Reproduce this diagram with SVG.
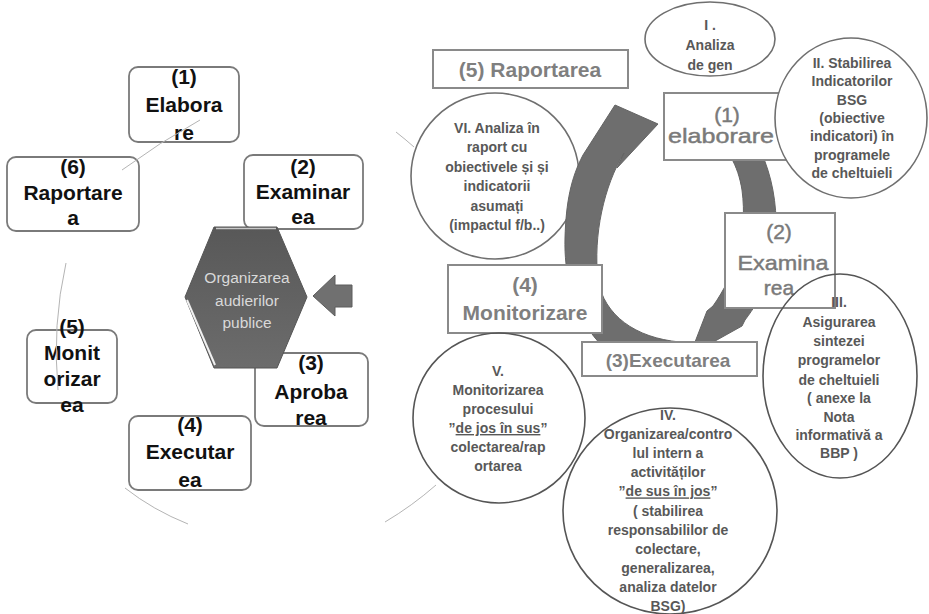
<svg xmlns="http://www.w3.org/2000/svg" width="929" height="614" viewBox="0 0 929 614">
  <defs>
    <linearGradient id="hexFill" x1="0" y1="0" x2="0" y2="1">
      <stop offset="0" stop-color="#585858"/>
      <stop offset="1" stop-color="#6c6c6c"/>
    </linearGradient>
    <style>
      .cycle-box { fill: #ffffff; stroke: #7a7a7a; stroke-width: 1.8; }
      .cycle-lbl { font-family: "Liberation Sans", Arial, sans-serif; font-weight: bold; font-size: 21px; fill: #111111; text-anchor: middle; }
      .guide { fill: none; stroke: #b4b4b4; stroke-width: 1; }
      .phase-box { fill: #ffffff; stroke: #8a8a8a; stroke-width: 2; }
      .phase-bold { font-family: "Liberation Sans", Arial, sans-serif; font-weight: bold; fill: #7f7f7f; text-anchor: middle; }
      .phase-reg { font-family: "Liberation Sans", Arial, sans-serif; font-size: 21px; fill: #7a7a7a; stroke: #7a7a7a; stroke-width: 0.45; text-anchor: middle; }
      .bubble { fill: #ffffff; stroke: #6f6f6f; stroke-width: 1.6; }
      .bubble-open { fill: none; stroke: #555555; stroke-width: 1.6; }
      .note { font-family: "Liberation Sans", Arial, sans-serif; font-weight: bold; font-size: 14px; fill: #585858; text-anchor: middle; }
      .ring { fill: #6e6e6e; stroke: #646464; stroke-width: 1; }
    </style>
  </defs>

  <!-- Left cycle: six rounded stage boxes around a central hexagon -->
  <g id="stage-1">
    <rect class="cycle-box" x="129" y="67" width="110" height="75" rx="9"/>
    <text class="cycle-lbl" x="184" y="84">(1)</text>
    <text class="cycle-lbl" x="184" y="112">Elabora</text>
    <text class="cycle-lbl" x="184" y="140">re</text>
  </g>
  <g id="stage-6">
    <rect class="cycle-box" x="7" y="157" width="132" height="74" rx="9"/>
    <text class="cycle-lbl" x="73" y="174">(6)</text>
    <text class="cycle-lbl" x="73" y="200">Raportare</text>
    <text class="cycle-lbl" x="73" y="225">a</text>
  </g>
  <g id="stage-2">
    <rect class="cycle-box" x="244" y="155" width="119" height="74" rx="9"/>
    <text class="cycle-lbl" x="303" y="174">(2)</text>
    <text class="cycle-lbl" x="303" y="199">Examinar</text>
    <text class="cycle-lbl" x="303" y="224">ea</text>
  </g>
  <g id="stage-3">
    <rect class="cycle-box" x="255" y="353" width="113" height="73" rx="9"/>
    <text class="cycle-lbl" x="311" y="370">(3)</text>
    <text class="cycle-lbl" x="311" y="399">Aproba</text>
    <text class="cycle-lbl" x="311" y="425">rea</text>
  </g>
  <g id="stage-4">
    <rect class="cycle-box" x="129" y="416" width="122" height="74" rx="9"/>
    <text class="cycle-lbl" x="190" y="432">(4)</text>
    <text class="cycle-lbl" x="190" y="459">Executar</text>
    <text class="cycle-lbl" x="190" y="487">ea</text>
  </g>
  <g id="stage-5">
    <rect class="cycle-box" x="27" y="330" width="90" height="73" rx="9"/>
    <text class="cycle-lbl" x="72" y="334">(5)</text>
    <text class="cycle-lbl" x="72" y="360">Monit</text>
    <text class="cycle-lbl" x="72" y="386">orizar</text>
    <text class="cycle-lbl" x="72" y="412">ea</text>
  </g>

  <!-- Thin arc pieces of the surrounding cycle -->
  <g id="cycle-arcs">
    <path class="guide" d="M200,120 Q160,142 122,170"/>
    <path class="guide" d="M66,263 Q52,325 58,390"/>
    <path class="guide" d="M125,488 Q153,510 188,524"/>
    <path class="guide" d="M436,485 Q412,506 385,522"/>
    <path class="guide" d="M396,132 Q405,139 414,147"/>
  </g>

  <g id="hub">
    <polygon points="214,227 277,227 307,297 277,368 214,368 185,297" fill="url(#hexFill)" stroke="#555555" stroke-width="1"/>
    <line x1="216" y1="228.5" x2="276" y2="228.5" stroke="#c8c8c8" stroke-width="1.5"/>
    <line x1="187" y1="300" x2="215" y2="365" stroke="#f0f0f0" stroke-width="2"/>
    <g font-family="Liberation Sans, Arial, sans-serif" font-size="15.5" fill="#d9d9d9" text-anchor="middle">
      <text x="247" y="283">Organizarea</text>
      <text x="247" y="306">audierilor</text>
      <text x="247" y="328">publice</text>
    </g>
  </g>

  <g id="link-arrow">
    <polygon points="313,296 335,275 335,285 352,285 352,307 335,307 335,316" fill="#707070" stroke="#5c5c5c" stroke-width="1"/>
  </g>

  <!-- Right cycle: descending ring arrow (drawn under the phase boxes) -->
  <g id="ring-down">
    <path class="ring" d="M712,96 C755,120 778,175 776,232 C774,272 762,298 745,320 L742,326 L690,355 L707,311 L713,306 C735,275 748,235 742,190 C738,165 728,148 708,130 Z"/>
  </g>

  <g id="phase-report">
    <rect class="phase-box" x="433" y="50" width="195" height="38"/>
    <text class="phase-bold" x="530" y="77" font-size="21">(5) Raportarea</text>
  </g>

  <g id="note-6">
    <ellipse class="bubble" cx="495" cy="176" rx="84" ry="83"/>
    <text class="note" x="497" y="133">VI. Analiza în</text>
    <text class="note" x="497" y="152.4">raport cu</text>
    <text class="note" x="497" y="171.8">obiectivele și și</text>
    <text class="note" x="497" y="191.2">indicatorii</text>
    <text class="note" x="497" y="210.6">asumați</text>
    <text class="note" x="497" y="230">(impactul f/b..)</text>
  </g>

  <!-- Rising ring arrow, laid over the bubble edge; head points right at the draft box -->
  <g id="ring-up">
    <path class="ring" d="M650,372 C600,362 563,310 565,238 C566,202 571,178 583,155 L615,105 L658,124 L617,168 L624,153 C604,186 593,235 598,280 C604,315 635,338 680,342 Z"/>
  </g>

  <g id="note-1">
    <ellipse class="bubble" cx="710" cy="39" rx="65" ry="37"/>
    <text class="note" x="710" y="30" font-size="15">I .</text>
    <text class="note" x="710" y="50" font-size="15">Analiza</text>
    <text class="note" x="710" y="70" font-size="15">de gen</text>
  </g>

  <g id="phase-draft">
    <rect class="phase-box" x="664" y="93" width="122" height="67"/>
    <text class="phase-reg" x="727" y="122">(1)</text>
    <text class="phase-reg" x="721" y="143" textLength="106" lengthAdjust="spacingAndGlyphs">elaborare</text>
  </g>

  <g id="note-2">
    <ellipse class="bubble" cx="851" cy="118" rx="76" ry="80"/>
    <text class="note" x="852" y="68">II. Stabilirea</text>
    <text class="note" x="852" y="86.3">Indicatorilor</text>
    <text class="note" x="852" y="104.6">BSG</text>
    <text class="note" x="852" y="122.9">(obiective</text>
    <text class="note" x="852" y="141.2">indicatori) în</text>
    <text class="note" x="852" y="159.5">programele</text>
    <text class="note" x="852" y="177.8">de cheltuieli</text>
  </g>

  <g id="phase-review">
    <rect class="phase-box" x="725" y="213" width="110" height="95"/>
    <text class="phase-reg" x="779" y="239">(2)</text>
    <text class="phase-reg" x="783" y="270" textLength="91" lengthAdjust="spacingAndGlyphs">Examina</text>
    <text class="phase-reg" x="779" y="295">rea</text>
  </g>

  <g id="phase-monitor">
    <rect class="phase-box" x="448" y="265" width="154" height="68"/>
    <text class="phase-bold" x="525" y="292" font-size="21">(4)</text>
    <text class="phase-bold" x="525" y="320" font-size="21">Monitorizare</text>
  </g>

  <g id="phase-execute">
    <rect class="phase-box" x="582" y="342" width="175" height="34"/>
    <text class="phase-bold" x="668" y="367" font-size="19">(3)Executarea</text>
  </g>

  <g id="note-3">
    <ellipse class="bubble-open" cx="840" cy="376" rx="77" ry="102"/>
    <text class="note" x="839" y="307">III.</text>
    <text class="note" x="839" y="327">Asigurarea</text>
    <text class="note" x="839" y="346">sintezei</text>
    <text class="note" x="839" y="365">programelor</text>
    <text class="note" x="839" y="385">de cheltuieli</text>
    <text class="note" x="839" y="403">( anexe la</text>
    <text class="note" x="839" y="422">Nota</text>
    <text class="note" x="839" y="440">informativă a</text>
    <text class="note" x="839" y="458">BBP )</text>
  </g>

  <g id="note-5">
    <ellipse class="bubble-open" cx="499" cy="418" rx="86" ry="85" stroke="#6f6f6f"/>
    <text class="note" x="498" y="376">V.</text>
    <text class="note" x="498" y="395">Monitorizarea</text>
    <text class="note" x="498" y="414">procesului</text>
    <text class="note" x="498" y="433">”<tspan text-decoration="underline">de jos în sus</tspan>”</text>
    <text class="note" x="498" y="452">colectarea/rap</text>
    <text class="note" x="498" y="471">ortarea</text>
  </g>

  <g id="note-4">
    <ellipse class="bubble-open" cx="670" cy="511" rx="107" ry="103" stroke="#6f6f6f"/>
    <text class="note" x="668" y="420">IV.</text>
    <text class="note" x="668" y="439.1">Organizarea/contro</text>
    <text class="note" x="668" y="458.2">lul intern a</text>
    <text class="note" x="668" y="477.3">activităților</text>
    <text class="note" x="668" y="496.4">”<tspan text-decoration="underline">de sus în jos</tspan>”</text>
    <text class="note" x="668" y="515.5">( stabilirea</text>
    <text class="note" x="668" y="534.6">responsabililor de</text>
    <text class="note" x="668" y="553.7">colectare,</text>
    <text class="note" x="668" y="572.8">generalizarea,</text>
    <text class="note" x="668" y="591.9">analiza datelor</text>
    <text class="note" x="668" y="611">BSG)</text>
  </g>
</svg>
